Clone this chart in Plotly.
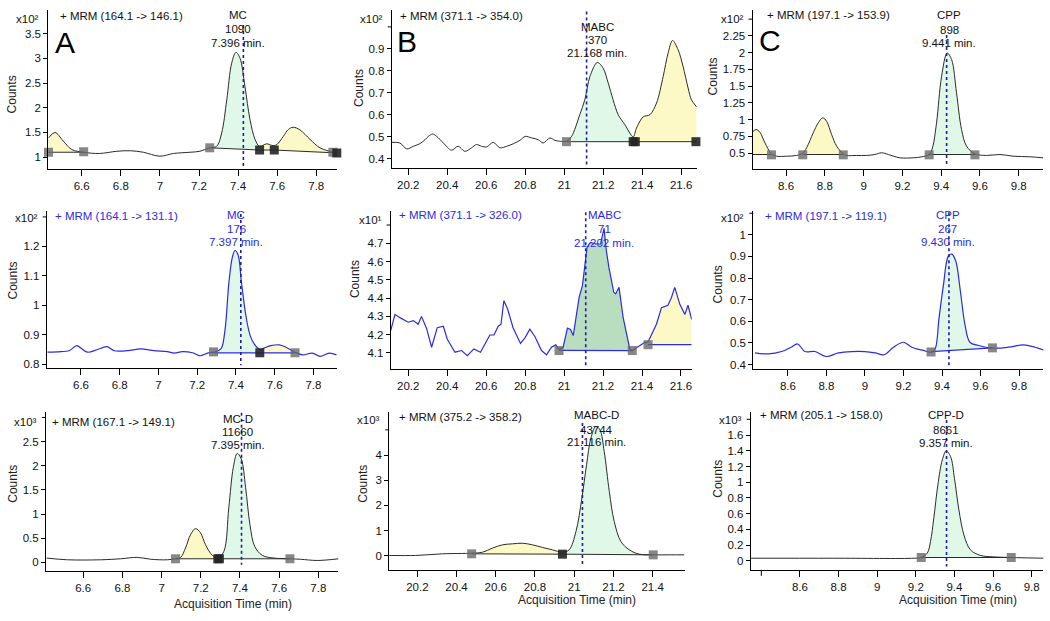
import plotly.graph_objects as go

# ======================= DATA (counts in axis units, i.e. x10^n) =======================
# ---- A1: MRM (164.1 -> 146.1), MC ----
A1_T = [6.43, 6.463, 6.505, 6.549, 6.61, 6.69, 6.78, 6.85, 6.915, 7.0, 7.069, 7.154, 7.205, 7.255,
        7.29, 7.316, 7.342, 7.367, 7.389, 7.41, 7.435, 7.461, 7.487, 7.51, 7.546, 7.572, 7.585,
        7.60, 7.631, 7.657, 7.682, 7.717, 7.768, 7.819, 7.885, 7.905]
A1_C = [1.39, 1.50, 1.33, 1.155, 1.10, 1.075, 1.12, 1.13, 1.10, 1.02, 1.075, 1.10, 1.12, 1.19,
        1.22, 1.49, 2.16, 2.90, 3.12, 3.0, 2.43, 1.76, 1.357, 1.22, 1.27, 1.24, 1.235,
        1.26, 1.42, 1.56, 1.605, 1.55, 1.36, 1.19, 1.10, 1.08]
A1_INT_T = [[6.43, 6.61], [7.255, 7.51], [7.51, 7.585], [7.585, 7.885]]
A1_INT_C = [[1.10, 1.10], [1.19, 1.145], [1.145, 1.145], [1.145, 1.09]]
A1_INT_TARGET = [False, True, False, False]
A1_MK_T = [6.43, 6.61, 7.255, 7.51, 7.585, 7.885, 7.905]
A1_MK_C = [1.10, 1.11, 1.19, 1.145, 1.145, 1.10, 1.085]
A1_RT = [7.427, 3.675, 0.82]
A1_LABEL = ["MC", "1090", "7.396 min."]
A1_MRM = "+ MRM (164.1 -> 146.1)"
A1_XTICKS = [6.6, 6.8, 7.0, 7.2, 7.4, 7.6, 7.8]
A1_YTICKS = [1, 1.5, 2, 2.5, 3, 3.5]
A1_YBLANK = []
A1_EXP = "²"

# ---- B1: MRM (371.1 -> 354.0), MABC ----
B1_T = [20.115, 20.157, 20.192, 20.226, 20.26, 20.286, 20.303, 20.325, 20.346, 20.38, 20.422, 20.456,
        20.49, 20.525, 20.55, 20.576, 20.602, 20.636, 20.67, 20.705, 20.74, 20.773, 20.8, 20.833,
        20.867, 20.892, 20.927, 20.952, 20.978, 21.012, 21.038, 21.08, 21.106, 21.132, 21.17, 21.2,
        21.226, 21.251, 21.277, 21.311, 21.354, 21.371, 21.405, 21.44, 21.474, 21.508, 21.533,
        21.556, 21.585, 21.61, 21.636, 21.653, 21.68]
B1_C = [0.474, 0.471, 0.444, 0.456, 0.468, 0.486, 0.501, 0.512, 0.501, 0.471, 0.438, 0.456,
        0.433, 0.449, 0.464, 0.456, 0.453, 0.474, 0.449, 0.456, 0.468, 0.483, 0.501, 0.494,
        0.486, 0.471, 0.494, 0.483, 0.479, 0.479, 0.501, 0.60, 0.668, 0.774, 0.838, 0.812,
        0.744, 0.668, 0.60, 0.555, 0.499, 0.539, 0.59, 0.60, 0.653, 0.774, 0.88,
        0.938, 0.895, 0.82, 0.721, 0.668, 0.635]
B1_INT_T = [[21.012, 21.354], [21.354, 21.68]]
B1_INT_C = [[0.477, 0.477], [0.477, 0.477]]
B1_INT_TARGET = [True, False]
B1_MK_T = [21.012, 21.354, 21.365, 21.676]
B1_MK_C = [0.477, 0.477, 0.477, 0.477]
B1_RT = [21.115, 1.07, 0.373]
B1_LABEL = ["MABC", "370", "21.168 min."]
B1_MRM = "+ MRM (371.1 -> 354.0)"
B1_XTICKS = [20.2, 20.4, 20.6, 20.8, 21.0, 21.2, 21.4, 21.6]
B1_YTICKS = [0.4, 0.5, 0.6, 0.7, 0.8, 0.9]
B1_YBLANK = [1.0]
B1_EXP = "²"

# ---- C1: MRM (197.1 -> 153.9), CPP ----
C1_T = [8.423, 8.445, 8.465, 8.491, 8.525, 8.552, 8.603, 8.655, 8.686, 8.706, 8.74, 8.766, 8.789,
        8.809, 8.835, 8.861, 8.895, 8.912, 8.964, 9.015, 9.058, 9.093, 9.127, 9.187, 9.256, 9.30,
        9.338, 9.355, 9.376, 9.402, 9.431, 9.454, 9.479, 9.505, 9.531, 9.574, 9.634, 9.703,
        9.771, 9.857, 9.925]
C1_C = [0.803, 0.853, 0.813, 0.655, 0.49, 0.455, 0.455, 0.466, 0.50, 0.58, 0.803, 0.952, 1.027,
        0.976, 0.778, 0.604, 0.49, 0.466, 0.466, 0.466, 0.48, 0.506, 0.48, 0.431, 0.431, 0.445,
        0.48, 0.58, 0.952, 1.646, 1.994, 1.894, 1.40, 0.853, 0.604, 0.49, 0.466, 0.48,
        0.455, 0.446, 0.431]
C1_INT_T = [[8.423, 8.525], [8.686, 8.895], [9.338, 9.574]]
C1_INT_C = [[0.48, 0.48], [0.48, 0.48], [0.48, 0.48]]
C1_INT_TARGET = [False, False, True]
C1_MK_T = [8.525, 8.686, 8.895, 9.338, 9.574]
C1_MK_C = [0.475, 0.475, 0.475, 0.475, 0.475]
C1_RT = [9.428, 2.265, 0.307]
C1_LABEL = ["CPP", "898", "9.441 min."]
C1_MRM = "+ MRM (197.1 -> 153.9)"
C1_XTICKS = [8.6, 8.8, 9.0, 9.2, 9.4, 9.6, 9.8]
C1_YTICKS = [0.5, 0.75, 1, 1.25, 1.5, 1.75, 2, 2.25]
C1_YBLANK = [2.5]
C1_EXP = "²"

# ---- A2: MRM (164.1 -> 131.1), MC qualifier ----
A2_T = [6.427, 6.496, 6.538, 6.578, 6.599, 6.633, 6.685, 6.733, 6.771, 6.84, 6.909, 6.977, 7.046,
        7.081, 7.124, 7.176, 7.215, 7.253, 7.284, 7.322, 7.342, 7.364, 7.382, 7.395, 7.411, 7.428,
        7.451, 7.473, 7.494, 7.523, 7.545, 7.58, 7.623, 7.658, 7.705, 7.743, 7.795, 7.834, 7.881, 7.92]
A2_C = [0.841, 0.843, 0.846, 0.863, 0.855, 0.841, 0.850, 0.860, 0.846, 0.846, 0.852, 0.846, 0.843,
        0.838, 0.843, 0.839, 0.829, 0.838, 0.841, 0.852, 0.909, 1.08, 1.165, 1.186, 1.171, 1.08,
        0.966, 0.898, 0.869, 0.850, 0.855, 0.863, 0.866, 0.858, 0.841, 0.832, 0.838, 0.827, 0.838, 0.832]
A2_INT_T = [[7.284, 7.523], [7.523, 7.705]]
A2_INT_C = [[0.839, 0.839], [0.839, 0.839]]
A2_INT_TARGET = [True, False]
A2_MK_T = [7.284, 7.523, 7.705]
A2_MK_C = [0.842, 0.839, 0.839]
A2_RT = [7.425, 1.31, 0.797]
A2_LABEL = ["MC", "176", "7.397 min."]
A2_MRM = "+ MRM (164.1 -> 131.1)"
A2_XTICKS = [6.6, 6.8, 7.0, 7.2, 7.4, 7.6, 7.8]
A2_YTICKS = [0.8, 0.9, 1.0, 1.1, 1.2]
A2_YBLANK = [1.3]
A2_EXP = "²"

# ---- B2: MRM (371.1 -> 326.0), MABC qualifier ----
B2_T = [20.11, 20.132, 20.157, 20.2, 20.226, 20.251, 20.268, 20.294, 20.32, 20.349, 20.38, 20.4,
        20.44, 20.474, 20.503, 20.537, 20.571, 20.593, 20.619, 20.64, 20.662, 20.676, 20.691, 20.71,
        20.738, 20.776, 20.8, 20.824, 20.85, 20.884, 20.91, 20.935, 20.957, 20.974, 20.995, 21.017,
        21.033, 21.047, 21.077, 21.094, 21.118, 21.135, 21.166, 21.187, 21.205, 21.217, 21.23,
        21.255, 21.265, 21.282, 21.303, 21.337, 21.35, 21.389, 21.415, 21.431, 21.474, 21.5,
        21.533, 21.551, 21.568, 21.594, 21.62, 21.636, 21.655]
B2_C = [4.222, 4.311, 4.293, 4.268, 4.277, 4.257, 4.30, 4.234, 4.131, 4.238, 4.246, 4.176,
        4.104, 4.113, 4.085, 4.122, 4.104, 4.149, 4.198, 4.198, 4.246, 4.257, 4.386, 4.34,
        4.238, 4.152, 4.184, 4.23, 4.19, 4.113, 4.089, 4.131, 4.144, 4.12, 4.131, 4.236,
        4.228, 4.195, 4.404, 4.468, 4.678, 4.705, 4.696, 4.696, 4.782, 4.659, 4.568,
        4.432, 4.423, 4.459, 4.295, 4.122, 4.113, 4.14, 4.158, 4.16, 4.257, 4.348,
        4.361, 4.403, 4.459, 4.366, 4.311, 4.361, 4.283]
B2_INT_T = [[20.974, 21.35], [21.431, 21.655]]
B2_INT_C = [[4.114, 4.113], [4.145, 4.145]]
B2_INT_TARGET = [True, False]
B2_MK_T = [20.974, 21.35, 21.431]
B2_MK_C = [4.113, 4.113, 4.145]
B2_RT = [21.111, 4.87, 4.03]
B2_LABEL = ["MABC", "71", "21.202 min."]
B2_MRM = "+ MRM (371.1 -> 326.0)"
B2_XTICKS = [20.2, 20.4, 20.6, 20.8, 21.0, 21.2, 21.4, 21.6]
B2_YTICKS = [4.1, 4.2, 4.3, 4.4, 4.5, 4.6, 4.7]
B2_YBLANK = [4.8]
B2_EXP = "¹"

# ---- C2: MRM (197.1 -> 119.1), CPP qualifier ----
C2_T = [8.429, 8.498, 8.567, 8.616, 8.65, 8.688, 8.74, 8.8, 8.862, 8.931, 9.0, 9.052, 9.1, 9.148,
        9.2, 9.243, 9.303, 9.343, 9.364, 9.384, 9.407, 9.433, 9.45, 9.471, 9.494, 9.52, 9.545,
        9.589, 9.662, 9.745, 9.823, 9.883, 9.935]
C2_C = [0.454, 0.449, 0.460, 0.480, 0.495, 0.460, 0.460, 0.437, 0.454, 0.460, 0.460, 0.454, 0.445, 0.480,
        0.503, 0.480, 0.465, 0.457, 0.472, 0.611, 0.765, 0.903, 0.911, 0.880, 0.749, 0.58, 0.503,
        0.488, 0.476, 0.480, 0.491, 0.480, 0.465]
C2_INT_T = [[9.343, 9.662]]
C2_INT_C = [[0.46, 0.477]]
C2_INT_TARGET = [True]
C2_MK_T = [9.343, 9.662]
C2_MK_C = [0.458, 0.477]
C2_RT = [9.436, 1.105, 0.395]
C2_LABEL = ["CPP", "267", "9.430 min."]
C2_MRM = "+ MRM (197.1 -> 119.1)"
C2_XTICKS = [8.6, 8.8, 9.0, 9.2, 9.4, 9.6, 9.8]
C2_YTICKS = [0.4, 0.5, 0.6, 0.7, 0.8, 0.9, 1.0]
C2_YBLANK = [1.1]
C2_EXP = "²"

# ---- A3: MRM (167.1 -> 149.1), MC-D ----
A3_T = [6.413, 6.519, 6.689, 6.791, 6.876, 6.944, 7.029, 7.071, 7.097, 7.122, 7.148, 7.173, 7.199,
        7.224, 7.259, 7.287, 7.318, 7.343, 7.366, 7.386, 7.407, 7.429, 7.451, 7.475, 7.514, 7.573,
        7.655, 7.709, 7.794, 7.905]
A3_C = [0.09, 0.054, 0.054, 0.075, 0.104, 0.065, 0.054, 0.075, 0.104, 0.298, 0.575, 0.70, 0.61,
        0.367, 0.146, 0.09, 0.229, 1.13, 1.965, 2.256, 2.138, 1.548, 0.783, 0.333, 0.146, 0.09,
        0.075, 0.065, 0.04, 0.075]
A3_INT_T = [[7.071, 7.287], [7.287, 7.655]]
A3_INT_C = [[0.075, 0.075], [0.075, 0.075]]
A3_INT_TARGET = [False, True]
A3_MK_T = [7.071, 7.287, 7.295, 7.655]
A3_MK_C = [0.075, 0.075, 0.075, 0.075]
A3_RT = [7.408, 3.1, -0.05]
A3_LABEL = ["MC-D", "11660", "7.395 min."]
A3_MRM = "+ MRM (167.1 -> 149.1)"
A3_XTICKS = [6.6, 6.8, 7.0, 7.2, 7.4, 7.6, 7.8]
A3_YTICKS = [0, 0.5, 1, 1.5, 2, 2.5]
A3_YBLANK = [3.0]
A3_EXP = "³"

# ---- B3: MRM (375.2 -> 358.2), MABC-D ----
B3_T = [20.053, 20.192, 20.328, 20.477, 20.532, 20.583, 20.634, 20.685, 20.736, 20.787, 20.838,
        20.889, 20.94, 20.974, 21.009, 21.039, 21.063, 21.085, 21.11, 21.131, 21.153, 21.179,
        21.204, 21.238, 21.281, 21.332, 21.403, 21.485, 21.561]
B3_C = [0.016, 0.016, 0.08, 0.106, 0.145, 0.306, 0.437, 0.476, 0.50, 0.437, 0.333,
        0.238, 0.145, 0.238, 0.968, 2.29, 3.61, 4.67, 5.13, 5.0, 4.14, 2.55,
        1.365, 0.571, 0.238, 0.067, 0.04, 0.04, 0.04]
B3_INT_T = [[20.477, 20.94], [20.94, 21.403]]
B3_INT_C = [[0.08, 0.067], [0.067, 0.04]]
B3_INT_TARGET = [False, True]
B3_MK_T = [20.477, 20.94, 21.403]
B3_MK_C = [0.08, 0.067, 0.04]
B3_RT = [21.042, 5.27, -0.357]
B3_LABEL = ["MABC-D", "43744", "21.116 min."]
B3_MRM = "+ MRM (375.2 -> 358.2)"
B3_XTICKS = [20.2, 20.4, 20.6, 20.8, 21.0, 21.2, 21.4]
B3_YTICKS = [0, 1, 2, 3, 4]
B3_YBLANK = [5.0]
B3_EXP = "³"

# ---- C3: MRM (205.1 -> 158.0), CPP-D ----
C3_T = [8.347, 8.775, 9.19, 9.228, 9.259, 9.276, 9.293, 9.314, 9.337, 9.357, 9.38, 9.40, 9.423,
        9.449, 9.483, 9.535, 9.604, 9.694, 9.863]
C3_C = [0.034, 0.034, 0.034, 0.043, 0.098, 0.246, 0.542, 0.965, 1.283, 1.397, 1.325, 1.05, 0.648,
        0.33, 0.14, 0.069, 0.051, 0.043, 0.034]
C3_INT_T = [[9.228, 9.694]]
C3_INT_C = [[0.043, 0.043]]
C3_INT_TARGET = [True]
C3_MK_T = [9.228, 9.694]
C3_MK_C = [0.043, 0.043]
C3_RT = [9.359, 1.79, -0.07]
C3_LABEL = ["CPP-D", "8661", "9.357 min."]
C3_MRM = "+ MRM (205.1 -> 158.0)"
C3_XTICKS = [8.6, 8.8, 9.0, 9.2, 9.4, 9.6, 9.8]
C3_XBLANK = [8.4]
C3_YTICKS = [0, 0.2, 0.4, 0.6, 0.8, 1.0, 1.2, 1.4, 1.6]
C3_YBLANK = [1.8]
C3_EXP = "³"

PANEL_LETTERS = ["A", "B", "C"]
X_TITLE = "Acquisition Time (min)"
Y_TITLE = "Counts"

DATA = {
    "A1": (A1_T, A1_C, A1_INT_T, A1_INT_C, A1_INT_TARGET, A1_MK_T, A1_MK_C, A1_RT, A1_LABEL, A1_MRM, A1_XTICKS, [], A1_YTICKS, A1_YBLANK, A1_EXP),
    "B1": (B1_T, B1_C, B1_INT_T, B1_INT_C, B1_INT_TARGET, B1_MK_T, B1_MK_C, B1_RT, B1_LABEL, B1_MRM, B1_XTICKS, [], B1_YTICKS, B1_YBLANK, B1_EXP),
    "C1": (C1_T, C1_C, C1_INT_T, C1_INT_C, C1_INT_TARGET, C1_MK_T, C1_MK_C, C1_RT, C1_LABEL, C1_MRM, C1_XTICKS, [], C1_YTICKS, C1_YBLANK, C1_EXP),
    "A2": (A2_T, A2_C, A2_INT_T, A2_INT_C, A2_INT_TARGET, A2_MK_T, A2_MK_C, A2_RT, A2_LABEL, A2_MRM, A2_XTICKS, [], A2_YTICKS, A2_YBLANK, A2_EXP),
    "B2": (B2_T, B2_C, B2_INT_T, B2_INT_C, B2_INT_TARGET, B2_MK_T, B2_MK_C, B2_RT, B2_LABEL, B2_MRM, B2_XTICKS, [], B2_YTICKS, B2_YBLANK, B2_EXP),
    "C2": (C2_T, C2_C, C2_INT_T, C2_INT_C, C2_INT_TARGET, C2_MK_T, C2_MK_C, C2_RT, C2_LABEL, C2_MRM, C2_XTICKS, [], C2_YTICKS, C2_YBLANK, C2_EXP),
    "A3": (A3_T, A3_C, A3_INT_T, A3_INT_C, A3_INT_TARGET, A3_MK_T, A3_MK_C, A3_RT, A3_LABEL, A3_MRM, A3_XTICKS, [], A3_YTICKS, A3_YBLANK, A3_EXP),
    "B3": (B3_T, B3_C, B3_INT_T, B3_INT_C, B3_INT_TARGET, B3_MK_T, B3_MK_C, B3_RT, B3_LABEL, B3_MRM, B3_XTICKS, [], B3_YTICKS, B3_YBLANK, B3_EXP),
    "C3": (C3_T, C3_C, C3_INT_T, C3_INT_C, C3_INT_TARGET, C3_MK_T, C3_MK_C, C3_RT, C3_LABEL, C3_MRM, C3_XTICKS, C3_XBLANK, C3_YTICKS, C3_YBLANK, C3_EXP),
}

# ======================= LAYOUT / STYLE =======================
W, H = 1050, 621
FONT = "Liberation Sans, Arial, sans-serif"
BLACK_LINE = "#2b2b2b"
BLUE = "#2b2be6"
GREEN = "#dff8e8"
GREEN_DARK = "#b8debf"
YELLOW = "#fdf9c6"
RT_COLOR = "#1c1ca8"
MK_GRAY = "rgba(105,105,105,0.8)"
MK_DARK = "rgba(35,35,35,0.9)"

# pixel boxes: (left, right, top, bottom), axis ranges
PANELS = {
    "A1": dict(box=(48.3, 337.0, 10, 169.5), xr=(6.429, 7.906), yr=(0.762, 3.978)),
    "B1": dict(box=(391.7, 696.7, 10, 169.0), xr=(20.115, 21.68), yr=(0.355, 1.077)),
    "C1": dict(box=(752.5, 1043.0, 10, 170.0), xr=(8.427, 9.925), yr=(0.257, 2.637)),
    "A2": dict(box=(46.7, 336.7, 212, 369.0), xr=(6.423, 7.92), yr=(0.788, 1.319)),
    "B2": dict(box=(390.7, 691.7, 212, 370.0), xr=(20.11, 21.655), yr=(4.013, 4.875)),
    "C2": dict(box=(753.3, 1043.3, 212, 370.0), xr=(8.42, 9.926), yr=(0.38, 1.109)),
    "A3": dict(box=(46.0, 338.3, 413, 572.7), xr=(6.41, 7.902), yr=(-0.175, 3.12)),
    "B3": dict(box=(389.3, 685.0, 413, 571.7), xr=(20.057, 21.565), yr=(-0.556, 5.72)),
    "C3": dict(box=(750.7, 1043.3, 413, 571.7), xr=(8.345, 9.86), yr=(-0.114, 1.897)),
}
MK_DARK_FLAGS = {
    "A1": [False, False, False, True, True, False, True],
    "B1": [False, True, True, True],
    "C1": [False] * 5,
    "A2": [False, True, False],
    "B2": [False, False, False],
    "C2": [False, False],
    "A3": [False, True, True, False],
    "B3": [False, True, False],
    "C3": [False, False],
}
LABEL_POS = {  # center x px, y px of 3 lines
    "A1": (238, [15, 29.5, 43]), "B1": (597, [27, 40, 53]), "C1": (949, [15, 30, 43]),
    "A2": (236, [216, 230, 243]), "B2": (604, [216, 229.5, 244]), "C2": (948, [216, 230, 243]),
    "A3": (237.5, [420, 433.5, 446.7]), "B3": (596, [416.7, 431, 443.3]), "C3": (945.7, [416, 431, 444]),
}
MRM_POS = {"A1": (58, 16), "B1": (398, 16), "C1": (765, 15), "A2": (53, 217), "B2": (396.7, 216),
           "C2": (763, 217), "A3": (50, 423), "B3": (396.7, 418), "C3": (758, 416)}
EXP_Y = {"A1": 19, "B1": 19, "C1": 19.3, "A2": 219, "B2": 221, "C2": 219, "A3": 423, "B3": 421, "C3": 421}
COUNTS_POS = {"A1": (11.7, 95), "B1": (358.3, 88), "C1": (712.7, 77), "A2": (12.7, 281.7), "B2": (355, 280),
              "C2": (718.3, 285), "A3": (13.3, 485), "B3": (363.3, 485), "C3": (718.3, 480)}
XTITLE_POS = {"A3": (233, 606), "B3": (576.7, 602), "C3": (958.3, 602)}
LETTER_POS = [(65, 42.5), (406.5, 41.7), (770, 41)]


def fx(p):
    return p / W


def fy(p):
    return 1 - p / H


def fmt(v):
    return f"{v:g}"


fig = go.Figure()
annotations = []
shapes = []
layout = {}

for i, key in enumerate(["A1", "B1", "C1", "A2", "B2", "C2", "A3", "B3", "C3"]):
    n = i + 1
    row = i // 3
    (T, C, INT_T, INT_C, INT_TGT, MK_T, MK_C, RT, LABEL, MRM,
     XT, XB, YT, YB, EXP) = DATA[key]
    p = PANELS[key]
    L, R, TOP, BOT = p["box"]
    xa = "x" if n == 1 else f"x{n}"
    ya = "y" if n == 1 else f"y{n}"
    blue = row == 1
    line_col = BLUE if blue else BLACK_LINE
    text_col = BLUE if blue else "#111111"
    shape = "linear" if key == "B2" else "spline"
    smooth = 0.9 if key == "B1" else 1.0

    # filled integration regions
    for (t0, t1), (c0, c1), tgt in zip(INT_T, INT_C, INT_TGT):
        sx = [t for t in T if t0 - 1e-9 <= t <= t1 + 1e-9]
        sy = [c for t, c in zip(T, C) if t0 - 1e-9 <= t <= t1 + 1e-9]
        if tgt:
            fc = GREEN_DARK if key == "B2" else GREEN
        else:
            fc = YELLOW
        fig.add_trace(go.Scatter(x=[t0, t1], y=[c0, c1], mode="lines", line=dict(width=0, color=fc),
                                 xaxis=xa, yaxis=ya, showlegend=False, hoverinfo="skip"))
        ln = dict(width=0, color=fc, shape=shape)
        if shape == "spline":
            ln["smoothing"] = smooth
        fig.add_trace(go.Scatter(x=sx, y=sy, mode="lines", fill="tonexty", fillcolor=fc,
                                 line=ln, xaxis=xa, yaxis=ya, showlegend=False, hoverinfo="skip"))

    # chromatogram trace
    ln = dict(width=1.2 if blue else 1.0, color=line_col, shape=shape)
    if shape == "spline":
        ln["smoothing"] = smooth
    fig.add_trace(go.Scatter(x=T, y=C, mode="lines", line=ln, xaxis=xa, yaxis=ya,
                             showlegend=False, hoverinfo="skip"))

    # baselines
    for (t0, t1), (c0, c1) in zip(INT_T, INT_C):
        fig.add_trace(go.Scatter(x=[t0, t1], y=[c0, c1], mode="lines",
                                 line=dict(width=1.2 if blue else 1.0, color=line_col),
                                 xaxis=xa, yaxis=ya, showlegend=False, hoverinfo="skip"))

    # retention-time dotted line
    fig.add_trace(go.Scatter(x=[RT[0], RT[0]], y=[RT[1], RT[2]], mode="lines",
                             line=dict(width=1.6, color=RT_COLOR, dash="dot"),
                             xaxis=xa, yaxis=ya, showlegend=False, hoverinfo="skip", cliponaxis=False))

    # integration markers
    cols = [MK_DARK if d else MK_GRAY for d in MK_DARK_FLAGS[key]]
    fig.add_trace(go.Scatter(x=MK_T, y=MK_C, mode="markers",
                             marker=dict(symbol="square", size=9, color=cols, line=dict(width=0)),
                             xaxis=xa, yaxis=ya, showlegend=False, hoverinfo="skip", cliponaxis=False))

    # axes (unlabelled ticks drawn as short shapes)
    for v in XB:
        shapes.append(dict(type="line", xref=xa, yref="paper", x0=v, x1=v, y0=fy(BOT), y1=fy(BOT + 6),
                           line=dict(color="#000", width=1)))
    for v in YB:
        shapes.append(dict(type="line", xref="paper", yref=ya, x0=fx(L - 4), x1=fx(L), y0=v, y1=v,
                           line=dict(color="#000", width=1)))
    xkey = "xaxis" if n == 1 else f"xaxis{n}"
    ykey = "yaxis" if n == 1 else f"yaxis{n}"
    layout[xkey] = dict(domain=[fx(L), fx(R)], range=list(p["xr"]), anchor=ya,
                        showline=True, linecolor="#000", linewidth=1, mirror=False,
                        ticks="outside", ticklen=6, tickcolor="#000", tickwidth=1,
                        tickvals=list(XT), ticktext=[fmt(v) for v in XT], showgrid=False, zeroline=False,
                        tickfont=dict(family=FONT, size=11.5, color="#111"), fixedrange=True)
    layout[ykey] = dict(domain=[fy(BOT), fy(TOP)], range=list(p["yr"]), anchor=xa,
                        showline=True, linecolor="#000", linewidth=1, mirror=False,
                        ticks="outside", ticklen=4, tickcolor="#000", tickwidth=1,
                        tickvals=list(YT), ticktext=[fmt(v) for v in YT], showgrid=False, zeroline=False,
                        tickfont=dict(family=FONT, size=11.5, color="#111"), fixedrange=True)

    # texts
    mx, my = MRM_POS[key]
    annotations.append(dict(x=fx(mx), y=fy(my), xref="paper", yref="paper", text=MRM,
                            xanchor="left", yanchor="middle", showarrow=False,
                            font=dict(family=FONT, size=11.5, color=text_col)))
    cx, ys = LABEL_POS[key]
    for txt, yy in zip(LABEL, ys):
        annotations.append(dict(x=fx(cx), y=fy(yy), xref="paper", yref="paper", text=txt,
                                xanchor="center", yanchor="middle", showarrow=False,
                                font=dict(family=FONT, size=11.5, color=text_col)))
    annotations.append(dict(x=fx(L - 7), y=fy(EXP_Y[key]), xref="paper", yref="paper",
                            text="x10" + EXP, xanchor="right", yanchor="middle",
                            showarrow=False, font=dict(family=FONT, size=11.5, color="#111")))
    cxp, cyp = COUNTS_POS[key]
    annotations.append(dict(x=fx(cxp), y=fy(cyp), xref="paper", yref="paper", text=Y_TITLE,
                            textangle=-90, xanchor="center", yanchor="middle", showarrow=False,
                            font=dict(family=FONT, size=12, color="#222")))
    if key in XTITLE_POS:
        tx, ty = XTITLE_POS[key]
        annotations.append(dict(x=fx(tx), y=fy(ty), xref="paper", yref="paper", text=X_TITLE,
                                xanchor="center", yanchor="middle", showarrow=False,
                                font=dict(family=FONT, size=12, color="#222")))

for letter, (lx, ly) in zip(PANEL_LETTERS, LETTER_POS):
    annotations.append(dict(x=fx(lx), y=fy(ly), xref="paper", yref="paper", text=letter,
                            xanchor="center", yanchor="middle", showarrow=False,
                            font=dict(family=FONT, size=30, color="#000")))

fig.update_layout(width=W, height=H, margin=dict(l=0, r=0, t=0, b=0),
                  paper_bgcolor="white", plot_bgcolor="white", showlegend=False,
                  annotations=annotations, shapes=shapes, **layout)

fig.write_html("out.html", config={"displayModeBar": False},
               post_script="document.documentElement.style.margin='0';"
                           "document.body.style.margin='0';document.body.style.overflow='hidden';")
